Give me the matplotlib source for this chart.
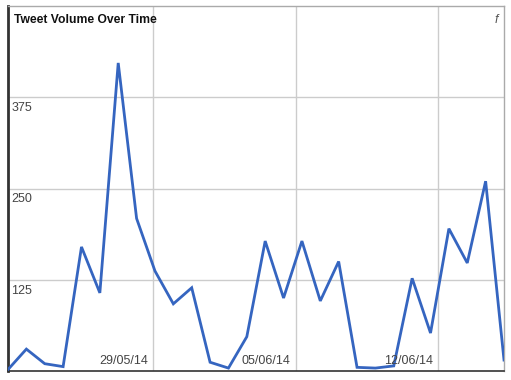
"""
Tweet volume over time, line chart
"""

import matplotlib
matplotlib.use('Agg')
import matplotlib.pyplot as plt
import matplotlib.dates as mplDates
import matplotlib.transforms as mtrans
import pandas as pd

# readings
tweets = [2, 30, 10, 6, 170, 107, 422, 209, 137, 92, 114, 12, 4, 47,
          178, 100, 178, 96, 150, 5, 4, 7, 127, 52, 195, 148, 260, 15]
times = pd.date_range('2014-05-21 21:20', '2014-06-15 05:30', periods=len(tweets))

yTicks = [125, 250, 375]
xTicks = ['2014-05-29', '2014-06-05', '2014-06-12']
xTickLabels = ['29/05/14', '05/06/14', '12/06/14']

plt.rcParams['font.family'] = ['Liberation Sans', 'DejaVu Sans']

fig = plt.figure(figsize=(5.11, 3.80), dpi=100)
ax = fig.add_axes([8 / 511, 9 / 380, 496 / 511, 365 / 380])

ax.plot(times, tweets, color='#3565c0', lw=2, solid_joinstyle='miter', zorder=3)

ax.set_ylim(0, 500)
ax.set_xlim(times[0], times[-1])

# gridlines
xt = [mplDates.date2num(pd.Timestamp(d)) for d in xTicks]
ax.set_xticks(xt)
ax.set_yticks(yTicks)
ax.grid(True, color='#cccccc', lw=1)
ax.tick_params(length=0, labelbottom=False, labelleft=False)

# labels sit inside the plot area
yTrans = mtrans.blended_transform_factory(ax.transAxes, ax.transData)
yTrans = yTrans + mtrans.ScaledTranslation(0, -5 / 100, fig.dpi_scale_trans)
for v in yTicks:
    ax.text(0.007, v, str(v), transform=yTrans, ha='left', va='top',
            fontsize=9, color='#444444')
xTrans = mtrans.blended_transform_factory(ax.transData, ax.transAxes)
xTrans = xTrans + mtrans.ScaledTranslation(-5 / 100, 0, fig.dpi_scale_trans)
for v, lab in zip(xt, xTickLabels):
    ax.text(v, 0.01, lab, transform=xTrans, ha='right', va='bottom',
            fontsize=9, color='#444444')

ax.text(0.012, 0.963, 'Tweet Volume Over Time', transform=ax.transAxes,
        ha='left', va='center', fontsize=8.7, fontweight='bold', color='#111111')
ax.text(0.988, 0.963, 'f', transform=ax.transAxes, ha='right', va='center',
        fontsize=9, style='italic', color='#555555')

for side in ['top', 'right']:
    ax.spines[side].set_color('#aaaaaa')
    ax.spines[side].set_linewidth(1)
ax.spines['left'].set_color('#333333')
ax.spines['left'].set_linewidth(2)
ax.spines['bottom'].set_color('#333333')
ax.spines['bottom'].set_linewidth(1.2)

fig.savefig('out.png', dpi=100)
